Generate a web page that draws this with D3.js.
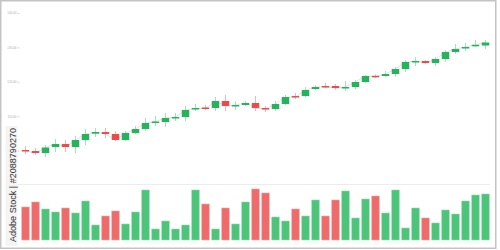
<!DOCTYPE html>
<html><head><meta charset="utf-8">
<script src="https://cdn.jsdelivr.net/npm/d3@7"></script>
<style>html,body{margin:0;padding:0;background:#fff;}svg{display:block;}</style>
</head><body>
<svg id="chart" width="500" height="250"></svg>
<script>
const opens  = [100.15,99.85,99.27,101.02,101.89,101.02,103.05,104.89,105.38,104.80,103.05,105.09,106.25,108.00,108.29,109.45,109.75,112.07,112.51,112.36,114.40,112.95,113.24,113.82,112.36,112.07,113.53,115.85,115.85,117.89,118.76,118.76,118.18,118.47,119.93,121.73,121.67,122.25,123.71,125.75,126.04,125.45,126.62,128.65,129.67,130.54,130.54];
const closes = [99.85,99.27,100.87,101.89,101.02,103.05,104.80,105.38,104.80,103.05,105.09,106.25,108.00,108.44,109.45,109.75,111.78,112.36,112.22,114.40,112.95,113.24,113.82,112.36,112.07,113.53,115.56,115.56,117.60,118.47,118.56,118.18,118.47,119.93,121.67,121.53,122.25,123.71,125.75,126.04,125.45,126.62,128.65,129.53,130.11,130.75,131.42];
const highs  = [101.31,100.73,101.60,103.35,103.05,104.22,106.25,106.55,106.55,105.67,105.67,107.13,109.45,110.04,110.91,110.91,112.95,113.53,113.24,115.56,116.15,114.40,114.40,115.85,112.95,114.40,116.15,116.73,118.47,119.05,119.64,119.35,120.22,120.51,121.96,122.11,123.13,124.29,126.33,127.20,126.33,127.20,129.24,130.98,131.27,132.14,132.14];
const lows   = [98.98,98.69,98.11,99.56,99.56,99.27,101.60,103.93,103.64,102.76,102.76,104.80,105.67,107.13,106.84,108.58,108.58,111.49,111.78,111.49,111.49,111.78,112.95,111.49,111.20,111.49,113.24,114.98,115.56,117.60,118.18,117.60,117.31,117.89,119.64,121.09,121.38,121.38,122.84,124.58,125.16,124.58,125.75,128.07,128.95,130.11,129.53];
const volumes = [33,38,31,28,32,27,39,15,24,29,16,28,50,11,19,11,15,50,36,11,32,16,38,51,47,23,19,31,24,40,24,40,49,22,41,44,27,50,12,32,22,17,30,26,39,45,46];
const priceTicks = [100,110,120,130,140];
const priceTickLabels = ["100.00","110.00","120.00","130.00","140.00"];
const watermark = "Adobe Stock | #2088790270";

const idx = d3.range(opens.length);
const svg = d3.select("#chart");

const GREEN = "#23b45c", RED = "#ee4a4a";
const GREEN_V = "#4cc479", RED_V = "#ef6a6a";
const GREEN_W = "#a9e0bb", RED_W = "#f6b4b4";

const x = d3.scaleBand().domain(idx).range([20.5, 490.5]).paddingInner(0.25).paddingOuter(0.125);
const y = d3.scaleLinear().domain([91.42, 142.33]).range([180, 5]);
const yv = d3.scaleLinear().domain([0, 52]).range([240, 188]);

const up = i => closes[i] >= opens[i];

// separator line
svg.append("line").attr("x1", 18).attr("x2", 490).attr("y1", 184.5).attr("y2", 184.5)
  .attr("stroke", "#ececec").attr("stroke-width", 1);

// price axis (tiny labels)
const ax = d3.axisLeft(y).tickValues(priceTicks).tickFormat((d,i)=>priceTickLabels[i]).tickSize(2).tickPadding(1);
const gAx = svg.append("g").attr("transform", "translate(19.5,0)").call(ax);
gAx.select(".domain").remove();
gAx.selectAll("line").attr("stroke", "#bbb").attr("stroke-width", 0.6);
gAx.selectAll("text").attr("font-size", 3).attr("fill", "#aaa").attr("font-family", "Liberation Sans, Arial, sans-serif");

// close line
svg.append("path").datum(idx)
  .attr("fill", "none").attr("stroke", "#d6d6d6").attr("stroke-width", 0.7)
  .attr("d", d3.line().x(i => x(i) + x.bandwidth()/2).y(i => y(closes[i])));

// wicks
svg.append("g").selectAll("line").data(idx).join("line")
  .attr("x1", i => x(i) + x.bandwidth()/2).attr("x2", i => x(i) + x.bandwidth()/2)
  .attr("y1", i => y(highs[i])).attr("y2", i => y(lows[i]))
  .attr("stroke", i => up(i) ? GREEN_W : RED_W).attr("stroke-width", 1);

// bodies
svg.append("g").selectAll("rect").data(idx).join("rect")
  .attr("x", i => x(i)).attr("width", x.bandwidth())
  .attr("y", i => Math.min(y(opens[i]), y(closes[i])))
  .attr("height", i => Math.max(1.5, Math.abs(y(opens[i]) - y(closes[i]))))
  .attr("fill", i => up(i) ? GREEN : RED);

// volume bars
svg.append("g").selectAll("rect").data(idx).join("rect")
  .attr("x", i => x(i)).attr("width", x.bandwidth())
  .attr("y", i => yv(volumes[i])).attr("height", i => yv(0) - yv(volumes[i]))
  .attr("fill", i => up(i) ? GREEN_V : RED_V)
  .attr("stroke", i => up(i) ? "#8fdcab" : "#f5a5a5").attr("stroke-width", 0.6);

// vertical watermark label
svg.append("rect").attr("x", 5.5).attr("y", 126).attr("width", 12).attr("height", 120)
  .attr("fill", "#f2f2f2").attr("opacity", 0.85);
svg.append("text")
  .attr("transform", "translate(15.5,242) rotate(-90)")
  .attr("font-family", "Liberation Sans, Arial, sans-serif").attr("font-size", 9.5)
  .attr("fill", "#333").attr("textLength", 114).attr("lengthAdjust", "spacingAndGlyphs")
  .text(watermark);

// frame
svg.append("rect").attr("x", 0.75).attr("y", 0.75).attr("width", 495).attr("height", 247.5)
  .attr("fill", "none").attr("stroke", "#c4c4c4").attr("stroke-width", 1.5);
</script>
</body></html>
